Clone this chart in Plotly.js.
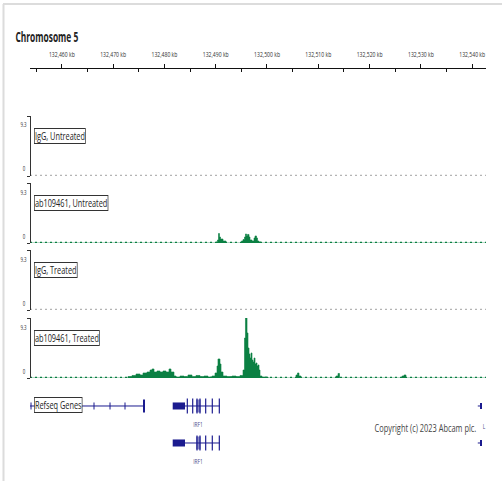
<!DOCTYPE html>
<html>
<head>
<meta charset="utf-8">
<script src="https://cdn.plot.ly/plotly-3.0.1.min.js"></script>
<style>
html,body{margin:0;padding:0;background:#fff;}
#chart{width:502px;height:481px;}
</style>
</head>
<body>
<div id="chart"></div>
<script>
// ---------------- data ----------------
const chromosomeTitle = "Chromosome 5";
const viewKb = [132453.8, 132542.7];
const tickKb = [132460, 132470, 132480, 132490, 132500, 132510, 132520, 132530, 132540];
const tickText = ["132,460 kb", "132,470 kb", "132,480 kb", "132,490 kb", "132,500 kb", "132,510 kb", "132,520 kb", "132,530 kb", "132,540 kb"];
const minorTickKb = [132455, 132465, 132475, 132485, 132495, 132505, 132515, 132525, 132535];
const scaleMax = 9.3;
const scaleLabels = ["9.3", "0"];
const trackNames = ["IgG, Untreated", "ab109461, Untreated", "IgG, Treated", "ab109461, Treated"];
const trackIsControl = [true, false, true, false];
const baselineLevel = [0.1, 0.1];

const untreatedPosKb = [132453.8, 132490.06, 132490.35, 132490.55, 132490.74, 132490.94, 132491.43, 132492.01, 132495.03, 132495.33, 132495.62, 132495.81, 132496.01, 132496.2, 132496.5, 132496.69, 132497.08, 132497.47, 132497.67, 132497.96, 132498.15, 132498.45, 132498.84, 132542.7];
const untreatedVal = [0, 0.16, 0.47, 1.47, 0.93, 0.62, 0.31, 0, 0.31, 0.54, 0.93, 1.4, 1.09, 1.32, 0.93, 0.47, 0.31, 0.78, 1.09, 0.78, 0.31, 0.16, 0, 0];

const treatedPosKb = [132453.8, 132472.9, 132473.69, 132474.47, 132475.25, 132475.83, 132476.61, 132477.2, 132477.59, 132477.98, 132478.56, 132479.14, 132479.73, 132480.31, 132480.9, 132481.29, 132481.87, 132482.26, 132483.04, 132483.82, 132484.6, 132485.38, 132486.16, 132486.94, 132487.72, 132488.5, 132489.28, 132489.87, 132490.26, 132490.45, 132490.84, 132491.04, 132491.43, 132492.21, 132493.18, 132493.96, 132494.74, 132495.33, 132495.62, 132495.81, 132496.11, 132496.3, 132496.5, 132496.69, 132496.89, 132497.08, 132497.28, 132497.47, 132497.67, 132497.86, 132498.06, 132498.25, 132498.45, 132498.64, 132499.03, 132500.2, 132505.66, 132505.95, 132506.24, 132506.63, 132513.46, 132513.85, 132514.14, 132526.32, 132526.72, 132527.1, 132542.7];
const treatedVal = [0, 0.23, 0.39, 0.62, 0.47, 0.78, 0.93, 1.24, 1.40, 0.93, 1.09, 0.93, 1.09, 0.93, 1.40, 0.93, 0.31, 0.16, 0.31, 0.23, 0.47, 0.23, 0.39, 0.23, 0.31, 0.16, 0.31, 0.78, 1.86, 2.95, 2.17, 0.93, 0.31, 0.23, 0.31, 0.23, 0.39, 1.24, 6.2, 9.3, 6.98, 4.65, 3.72, 3.1, 3.88, 2.79, 2.48, 3.1, 2.17, 2.33, 1.86, 2.02, 1.24, 0.31, 0.16, 0, 0.47, 0.78, 0.31, 0, 0.31, 0.7, 0, 0.31, 0.47, 0, 0];

// genes (kb)
const geneTrackName = "Refseq Genes";
const geneRows = [1, 2];
const leftGeneKb = [132453.8, 132476.22];
const leftGeneExonKb = [132475.83, 132476.22];
const leftGeneMarkKb = [132454.0, 132466.28, 132469.4, 132472.32];
const irf1UtrKb = [132481.62, 132484.02];
const irf1LineKb = [132484.02, 132490.8];
const irf1BlockKb = [132486.16, 132487.08];
const irf1ExonKb = [
  [132484.47, 132485.52, 132486.36, 132486.94, 132488.05, 132489.34, 132490.71],
  [132486.36, 132486.94, 132488.05, 132489.34, 132490.71]
];
const irf1LabelKb = 132486.6;
const geneLabels = ["IRF1", "IRF1"];
const rightGeneKb = [132541.53, 132541.92];
const rightGeneStemKb = [132541.1, 132541.53];
const rightGeneLabel = "L";
const copyrightText = "Copyright (c) 2023 Abcam plc.";

// ---------------- layout helpers ----------------
const W = 502, H = 481;
const FONT = "'Open Sans', 'Liberation Sans', sans-serif";
const px = v => v / W;
const py = v => 1 - v / H;
const plotL = 30, plotR = 486;
const trackTops = [116, 183, 250, 318];
const trackH = 60;
const GREEN = "#0b8043";
const GREY = "#b4b4b4";
const NAVY = "#1b1b8f";
const LIGHT = "#8a8ac6";

const traces = [];
const condense = [];
const layout = {
  width: W, height: H,
  margin: {l: 0, r: 0, t: 0, b: 0},
  paper_bgcolor: "#fff", plot_bgcolor: "rgba(0,0,0,0)",
  showlegend: false,
  barmode: "overlay",
  font: {family: FONT, color: "#333"},
  annotations: [],
  shapes: []
};
function addAnn(a, k) { layout.annotations.push(a); condense.push(k); }

// ruler
layout.xaxis = {
  domain: [px(plotL), px(plotR)], range: viewKb, side: "top", anchor: "y",
  showline: true, linecolor: "#111", linewidth: 1.5,
  ticks: "outside", ticklen: 4, tickwidth: 1, tickcolor: "#111",
  tickmode: "array", tickvals: tickKb, ticktext: tickText,
  tickfont: {size: 7.5, color: "#333", family: FONT},
  ticklabelstandoff: 3,
  minor: {tickmode: "array", tickvals: minorTickKb, ticks: "inside", ticklen: 3, tickcolor: "#111", showgrid: false},
  showgrid: false, zeroline: false, fixedrange: true
};
layout.yaxis = {domain: [py(100), py(69)], range: [0, 1], visible: false, fixedrange: true};
traces.push({x: viewKb, y: [0.5, 0.5], xaxis: "x", yaxis: "y", mode: "none", hoverinfo: "skip"});

addAnn({
  text: chromosomeTitle, xref: "paper", yref: "paper", x: px(14), y: py(37),
  xanchor: "left", yanchor: "middle", showarrow: false,
  font: {size: 14, family: FONT, color: "#222", weight: 700}
}, 0.6);

// tracks
trackNames.forEach((name, i) => {
  const n = i + 2;
  const top = trackTops[i], bot = top + trackH;
  layout["xaxis" + n] = {matches: "x", domain: [px(plotL), px(plotR)], anchor: "y" + n, visible: false, range: viewKb};
  layout["yaxis" + n] = {
    domain: [py(bot), py(top)], range: [0, scaleMax], anchor: "free", position: px(plotL),
    showline: true, linecolor: "#333", linewidth: 1,
    ticks: "outside", ticklen: 3, tickcolor: "#333", tickwidth: 1,
    tickmode: "array", tickvals: [0, scaleMax], showticklabels: false,
    showgrid: false, zeroline: false, fixedrange: true
  };
  traces.push({
    x: viewKb, y: baselineLevel, xaxis: "x" + n, yaxis: "y" + n, mode: "lines",
    line: {color: trackIsControl[i] ? GREY : GREEN, width: 1.4, dash: "2px,3px"}, hoverinfo: "skip"
  });
  addAnn({
    text: name, xref: "paper", yref: "paper", x: px(34), y: py(top + 20),
    xanchor: "left", yanchor: "middle", showarrow: false,
    bordercolor: "#333", borderwidth: 1, borderpad: 0, bgcolor: "#fff",
    font: {size: 10.5, family: FONT, color: "#222"}
  }, 0.7);
  addAnn({
    text: scaleLabels[0], xref: "paper", yref: "paper", x: px(23), y: py(top + 9),
    xanchor: "center", yanchor: "middle", showarrow: false,
    font: {size: 6.5, family: FONT, color: "#333"}
  }, 0.68);
  addAnn({
    text: scaleLabels[1], xref: "paper", yref: "paper", x: px(24), y: py(bot - 7),
    xanchor: "center", yanchor: "middle", showarrow: false,
    font: {size: 6.5, family: FONT, color: "#333"}
  }, 0.68);
});

traces.push({
  x: untreatedPosKb, y: untreatedVal, xaxis: "x3", yaxis: "y3", mode: "lines",
  line: {shape: "hv", color: GREEN, width: 0.6}, fill: "tozeroy", fillcolor: GREEN, hoverinfo: "skip"
});
traces.push({
  x: treatedPosKb, y: treatedVal, xaxis: "x5", yaxis: "y5", mode: "lines",
  line: {shape: "hv", color: GREEN, width: 0.6}, fill: "tozeroy", fillcolor: GREEN, hoverinfo: "skip"
});

// genes subplot
layout.xaxis6 = {matches: "x", domain: [px(plotL), px(plotR)], anchor: "y6", visible: false, range: viewKb};
layout.yaxis6 = {domain: [py(465), py(395)], range: [2.595, 0.703], visible: false, fixedrange: true};

const lx = [], ly = [];
lx.push(leftGeneKb[0], leftGeneKb[1], null); ly.push(1, 1, null);
geneRows.forEach(r => {
  lx.push(irf1LineKb[0], irf1LineKb[1], null); ly.push(r, r, null);
  lx.push(rightGeneStemKb[0], rightGeneStemKb[1], null); ly.push(r, r, null);
});
traces.push({x: lx, y: ly, xaxis: "x6", yaxis: "y6", mode: "lines", line: {color: NAVY, width: 1}, hoverinfo: "skip"});
traces.push({
  x: leftGeneMarkKb, y: leftGeneMarkKb.map(() => 1), xaxis: "x6", yaxis: "y6", mode: "markers",
  marker: {symbol: "line-ns-open", size: 5, color: NAVY, line: {color: NAVY, width: 1}}, hoverinfo: "skip"
});

function hbar(bases, lens, rows, thick, color) {
  return {
    type: "bar", orientation: "h", base: bases, x: lens, y: rows, width: thick,
    xaxis: "x6", yaxis: "y6", marker: {color: color, line: {width: 0}}, hoverinfo: "skip"
  };
}
traces.push(hbar(geneRows.map(() => irf1UtrKb[0]), geneRows.map(() => irf1UtrKb[1] - irf1UtrKb[0]), geneRows, 0.19, NAVY));
traces.push(hbar(geneRows.map(() => irf1BlockKb[0]), geneRows.map(() => irf1BlockKb[1] - irf1BlockKb[0]), geneRows, 0.35, LIGHT));
const eb = [], el = [], er = [];
irf1ExonKb.forEach((list, ri) => list.forEach(c => { eb.push(c - 0.115); el.push(0.23); er.push(geneRows[ri]); }));
traces.push(hbar(eb, el, er, 0.405, NAVY));
traces.push(hbar([leftGeneExonKb[0]], [leftGeneExonKb[1] - leftGeneExonKb[0]], [1], 0.351, NAVY));
traces.push(hbar(geneRows.map(() => rightGeneKb[0]), geneRows.map(() => rightGeneKb[1] - rightGeneKb[0]), geneRows, 0.16, NAVY));

addAnn({
  text: geneTrackName, xref: "paper", yref: "paper", x: px(34), y: py(405),
  xanchor: "left", yanchor: "middle", showarrow: false,
  bordercolor: "#333", borderwidth: 1, borderpad: 0, bgcolor: "#fff",
  font: {size: 10.5, family: FONT, color: "#222"}
}, 0.7);
[423, 460].forEach((yy, i) => addAnn({
  text: geneLabels[i], xref: "x6", yref: "paper", x: irf1LabelKb, y: py(yy),
  xanchor: "center", yanchor: "middle", showarrow: false,
  font: {size: 8, family: FONT, color: "#4a4a88"}
}, 0.6));
addAnn({
  text: rightGeneLabel, xref: "paper", yref: "paper", x: px(484), y: py(425),
  xanchor: "center", yanchor: "middle", showarrow: false,
  font: {size: 8, family: FONT, color: "#4a4a88"}
}, 0.6);
addAnn({
  text: copyrightText, xref: "paper", yref: "paper", x: px(373), y: py(428),
  xanchor: "left", yanchor: "middle", showarrow: false,
  font: {size: 10.3, family: FONT, color: "#444"}
}, 0.72);

// light frame
layout.shapes.push({type: "line", xref: "paper", yref: "paper", x0: px(3), x1: 1, y0: py(4), y1: py(4), line: {color: "#dcdcdc", width: 2}});
layout.shapes.push({type: "line", xref: "paper", yref: "paper", x0: px(3.5), x1: px(3.5), y0: 0, y1: py(4), line: {color: "#dcdcdc", width: 2}});

function squeeze(el, k, anchor) {
  const bb = el.getBBox();
  const ox = anchor === "left" ? bb.x : bb.x + bb.width / 2;
  const prev = el.getAttribute("transform") || "";
  el.setAttribute("transform", prev + " translate(" + ox + ",0) scale(" + k + ",1) translate(" + (-ox) + ",0)");
}

Plotly.newPlot("chart", traces, layout, {displayModeBar: false, staticPlot: true}).then(gd => {
  gd.querySelectorAll("g.annotation").forEach(g => {
    const i = +g.getAttribute("data-index");
    const a = layout.annotations[i];
    if (a && condense[i]) squeeze(g, condense[i], a.xanchor);
  });
  gd.querySelectorAll("g.xtick text").forEach(t => squeeze(t, 0.68, "center"));
});
</script>
</body>
</html>
